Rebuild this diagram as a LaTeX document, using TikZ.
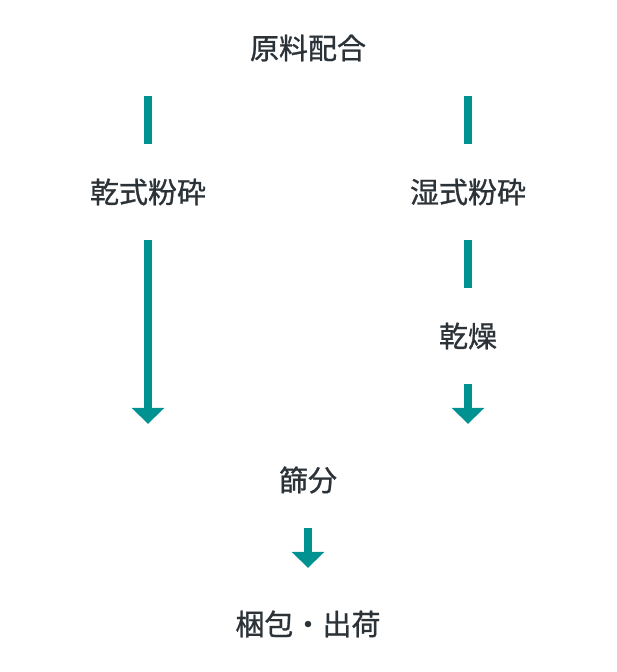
\documentclass[tikz,border=0pt]{standalone}
\usepackage{fontspec}
\setmainfont{Noto Sans CJK JP}[FakeBold=0.9]
\usetikzlibrary{arrows.meta}
\definecolor{flowteal}{HTML}{009191}
\definecolor{flowtext}{HTML}{2B3238}
\begin{document}
\begin{tikzpicture}[
      x=1pt, y=-1pt,
      stage/.style={text=flowtext, font=\fontsize{29}{29}\selectfont, minimum height=96pt, inner sep=0pt},
      bar/.style={draw=flowteal, line width=8pt},
      flow/.style={bar, -{Triangle[width=32pt, length=16pt]}, shorten >=8pt}
    ]
      \useasboundingbox (0, 0) rectangle (616, 672);

      \node[stage] (mix) at (308, 48) {原料配合};
      \node[stage] (dry) at (148, 192) {乾式粉砕};
      \node[stage] (wet) at (468, 192) {湿式粉砕};
      \node[stage] (drying) at (468, 336) {乾燥};
      \node[stage] (sieve) at (308, 480) {篩分};
      \node[stage] (pack) at (308, 624) {梱包・出荷};

      \draw[bar] (mix.south -| dry) -- (dry.north);
      \draw[bar] (mix.south -| wet) -- (wet.north);
      \draw[bar] (wet.south) -- (drying.north);

      \draw[flow] (dry.south) -- (dry.south |- sieve.north);
      \draw[flow] (drying.south) -- (drying.south |- sieve.north);
      \draw[flow] (sieve.south) -- (pack.north);
    \end{tikzpicture}
\end{document}
